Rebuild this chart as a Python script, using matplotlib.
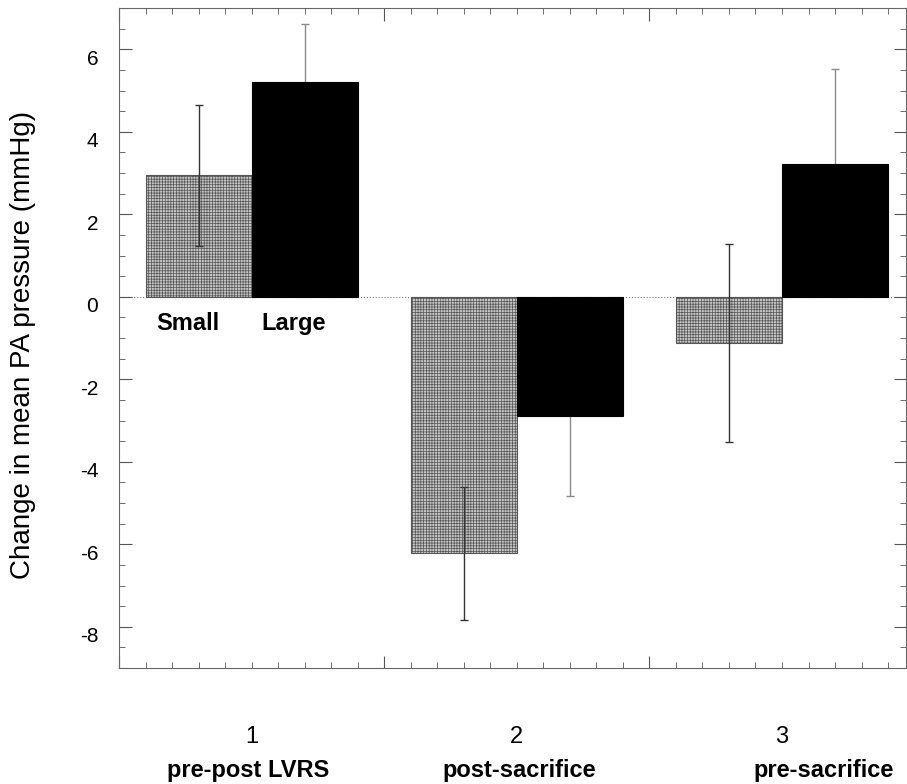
import numpy as np
import matplotlib
matplotlib.use('Agg')
import matplotlib.pyplot as plt
from matplotlib.ticker import MultipleLocator, NullFormatter
from matplotlib.transforms import ScaledTranslation, blended_transform_factory

plt.rcParams['font.family'] = ['Liberation Sans', 'DejaVu Sans']
plt.rcParams['axes.unicode_minus'] = False
plt.rcParams['hatch.linewidth'] = 0.5

# ---- data ----
groups = ['1', '2', '3']
names = ['pre-post LVRS', 'post-sacrifice', 'pre-sacrifice']
small = [2.95, -6.22, -1.12]
small_err = [1.71, 1.61, 2.40]
large = [5.20, -2.90, 3.21]
large_err = [1.41, 1.94, 2.31]

x = np.arange(1, len(groups) + 1)
w = 0.4

fig = plt.figure(figsize=(9.07, 7.84), dpi=100)
ax = fig.add_axes([119 / 907, 1 - 668 / 784, 787 / 907, 660 / 784])

ax.axhline(0, color='#777777', linewidth=0.8, linestyle=':', zorder=0)

# Large error bars sit behind the black bars, so only the outer half shows
ax.errorbar(x + w / 2, large, yerr=large_err, fmt='none', ecolor='#8a8a8a',
            elinewidth=1, capsize=3, capthick=1, zorder=1)
ax.bar(x - w / 2, small, width=w, color='#c6c6c6', edgecolor='#555555',
       hatch='++++++', linewidth=0.8, zorder=2)
ax.bar(x + w / 2, large, width=w, color='black', edgecolor='black',
       linewidth=0.8, zorder=2)
ax.errorbar(x - w / 2, small, yerr=small_err, fmt='none', ecolor='#333333',
            elinewidth=1, capsize=3, capthick=1, zorder=3)

ax.text(0.76, -0.64, 'Small', fontsize=17, fontweight='bold', ha='center', va='center')
ax.text(1.16, -0.64, 'Large', fontsize=17, fontweight='bold', ha='center', va='center')

ax.set_xlim(0.5, 3.4675)
ax.set_ylim(-9, 7)

ax.set_yticks(np.arange(-8, 7, 2))
ax.yaxis.set_minor_locator(MultipleLocator(0.5))
ax.set_xticks([0.5, 1.5, 2.5])
ax.xaxis.set_major_formatter(NullFormatter())
ax.xaxis.set_minor_locator(MultipleLocator(0.1))

ax.tick_params(which='both', direction='in', top=True, right=True, color='#555555')
ax.tick_params(which='major', length=9, width=0.8)
ax.tick_params(which='minor', length=4, width=0.6)
ax.tick_params(axis='y', which='major', labelsize=15, pad=15)

# tick labels in the reference sit a little below their ticks
for lab in ax.get_yticklabels():
    lab.set_transform(lab.get_transform() + ScaledTranslation(0, -0.08, fig.dpi_scale_trans))

for s in ax.spines.values():
    s.set_color('#666666')
    s.set_linewidth(0.8)

ax.set_ylabel('Change in mean PA pressure (mmHg)', fontsize=20)
ax.yaxis.set_label_coords(-0.105, 0.49)

# group numbers and names below the axis
trans = blended_transform_factory(ax.transData, ax.transAxes)
name_x = [0.986, 2.008, 3.158]
for xi, g in zip(x, groups):
    ax.text(xi, -0.1045, g, transform=trans, fontsize=17, ha='center', va='center')
for xi, n in zip(name_x, names):
    ax.text(xi, -0.165, n, transform=trans, fontsize=17, fontweight='bold',
            ha='center', va='baseline')

fig.savefig('out.png', dpi=100, facecolor='white')
